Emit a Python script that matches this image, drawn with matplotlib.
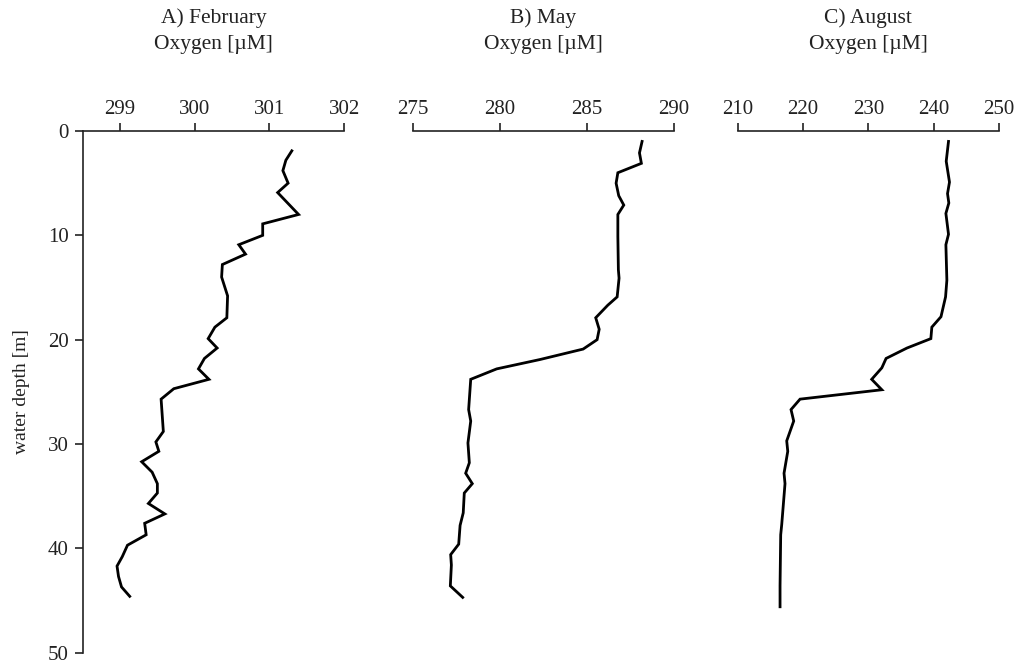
import numpy as np
import matplotlib
matplotlib.use('Agg')
import matplotlib.pyplot as plt

plt.rcParams['font.family'] = ['Liberation Serif', 'DejaVu Serif']
plt.rcParams['font.size'] = 14

# --- data (depth [m], oxygen [uM]) ---
feb_depth = [1.9, 2.8, 3.8, 5.0, 5.9, 8.0, 8.9, 10.0, 10.9, 11.8, 12.8, 14.0, 15.8, 17.9,
             18.8, 19.9, 20.8, 21.8, 22.8, 23.8, 24.7, 25.7, 28.8, 29.8, 30.7, 31.7, 32.7,
             33.8, 34.7, 35.7, 36.7, 37.6, 38.7, 39.7, 40.8, 41.7, 42.7, 43.7, 44.6]
feb_oxy = [301.30, 301.22, 301.18, 301.25, 301.11, 301.39, 300.91, 300.91, 300.59, 300.68,
           300.37, 300.36, 300.44, 300.43, 300.27, 300.18, 300.30, 300.13, 300.05, 300.19,
           299.72, 299.55, 299.58, 299.48, 299.52, 299.29, 299.43, 299.50, 299.50, 299.38,
           299.60, 299.33, 299.35, 299.10, 299.03, 298.96, 298.98, 299.02, 299.13]

may_depth = [1.0, 2.1, 3.1, 4.0, 5.0, 6.2, 7.1, 8.0, 10.1, 13.3, 14.1, 15.9, 16.7, 17.9,
             19.0, 20.0, 20.9, 21.9, 22.8, 23.8, 26.7, 27.8, 29.9, 31.8, 32.8, 33.8, 34.7,
             36.6, 37.8, 39.6, 40.6, 41.6, 43.6, 44.7]
may_oxy = [288.16, 288.01, 288.12, 286.77, 286.67, 286.82, 287.11, 286.77, 286.77, 286.80,
           286.84, 286.73, 286.19, 285.50, 285.70, 285.58, 284.78, 282.31, 279.82, 278.33,
           278.21, 278.33, 278.17, 278.25, 278.04, 278.42, 277.96, 277.90, 277.72, 277.64,
           277.18, 277.22, 277.16, 277.87]

aug_depth = [1.0, 2.9, 4.9, 6.0, 6.9, 7.9, 9.9, 10.9, 14.3, 15.9, 17.8, 18.8, 19.9, 20.8,
             21.8, 22.7, 23.8, 24.8, 25.7, 26.7, 27.8, 29.7, 30.7, 32.8, 33.8, 37.7, 38.7,
             43.6, 45.6]
aug_oxy = [242.25, 241.90, 242.40, 242.10, 242.30, 241.85, 242.25, 241.85, 242.00, 241.80,
           241.10, 239.70, 239.55, 235.90, 232.70, 232.05, 230.50, 232.05, 219.54, 218.16,
           218.57, 217.50, 217.66, 217.09, 217.24, 216.74, 216.58, 216.48, 216.48]

titles = ['A) February', 'B) May', 'C) August']
xlims = [(298.5, 302), (275, 290), (210, 250)]
xticks = [[299, 300, 301, 302], [275, 280, 285, 290], [210, 220, 230, 240, 250]]

fig = plt.figure(figsize=(10.23, 6.66), dpi=100)
lefts = [0.0808, 0.4034, 0.7211]
width = 0.2556
bottom, top = 0.02, 0.8033
axcol = '#222222'

series = [(feb_oxy, feb_depth), (may_oxy, may_depth), (aug_oxy, aug_depth)]
for i, (ox, dep) in enumerate(series):
    ax = fig.add_axes([lefts[i], bottom, width, top - bottom])
    ax.plot(ox, dep, color='black', lw=2.0, solid_joinstyle='miter')
    ax.set_xlim(*xlims[i])
    ax.set_ylim(50, 0)
    ax.xaxis.tick_top()
    ax.set_xticks(xticks[i])
    for s in ['right', 'bottom']:
        ax.spines[s].set_visible(False)
    for s in ['top', 'left']:
        ax.spines[s].set_linewidth(1.2)
        ax.spines[s].set_color(axcol)
    ax.tick_params(axis='x', direction='out', length=6, width=1.2, pad=3,
                   labelsize=15, color=axcol, labelcolor=axcol)
    ax.tick_params(axis='y', direction='out', length=6, width=1.2, pad=4,
                   labelsize=15, color=axcol, labelcolor=axcol)
    if i == 0:
        ax.set_yticks([0, 10, 20, 30, 40, 50])
        ax.set_ylabel('water depth [m]', fontsize=14, labelpad=13, color=axcol)
    else:
        ax.spines['left'].set_visible(False)
        ax.set_yticks([])
    xc = lefts[i] + width / 2
    fig.text(xc, 1 - 18 / 666, titles[i], ha='center', va='center', fontsize=15.5, color=axcol)
    fig.text(xc, 1 - 45 / 666, 'Oxygen [µM]', ha='center', va='center', fontsize=15.5, color=axcol)

fig.savefig('out.png', dpi=100)
